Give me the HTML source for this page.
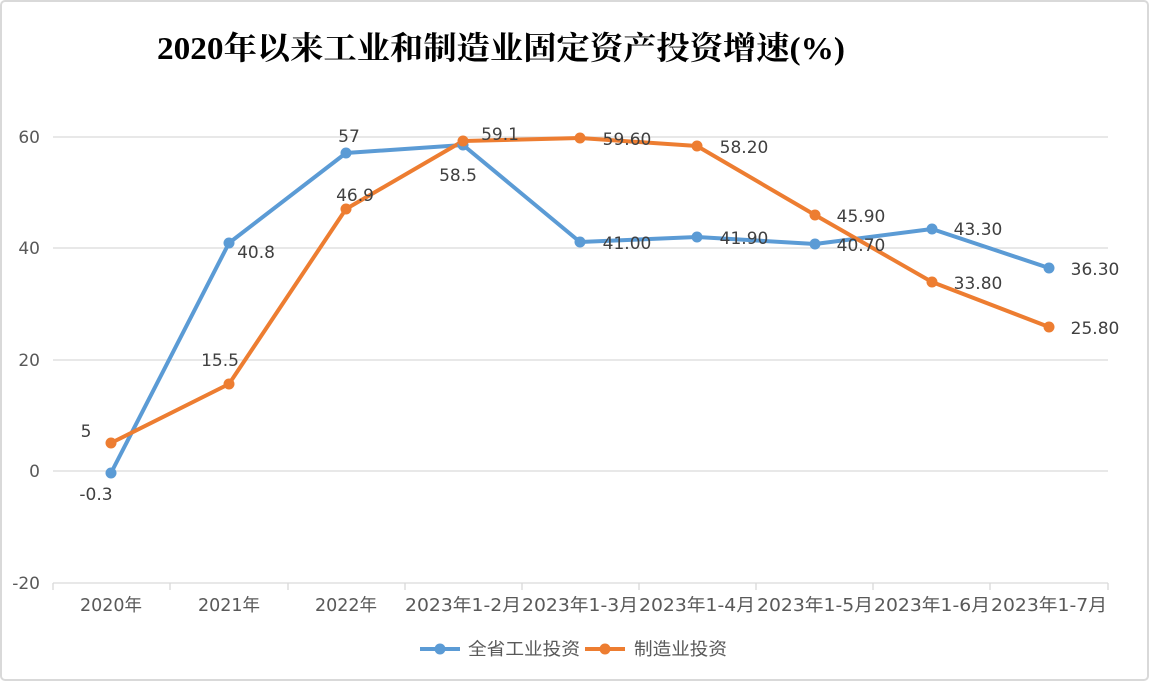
<!DOCTYPE html>
<html><head><meta charset="utf-8"><style>
html,body{margin:0;padding:0;background:#fff;}
svg{display:block;}
</style></head><body>
<svg width="1149" height="681" xmlns="http://www.w3.org/2000/svg" font-family="'DejaVu Sans','Noto Sans CJK SC',sans-serif">
<rect x="1" y="1" width="1147" height="679" rx="4" fill="#fff" stroke="#d9d9d9" stroke-width="2"/>
<text x="157" y="59" font-family="'Liberation Serif','Noto Serif CJK SC',serif" font-weight="bold" font-size="32" textLength="688" lengthAdjust="spacingAndGlyphs" fill="#000">2020年以来工业和制造业固定资产投资增速(%)</text>
<g stroke="#d9d9d9" stroke-width="1.3">
<line x1="53" y1="137" x2="1108" y2="137"/>
<line x1="53" y1="248" x2="1108" y2="248"/>
<line x1="53" y1="360" x2="1108" y2="360"/>
<line x1="53" y1="471" x2="1108" y2="471"/>
<line x1="53" y1="583" x2="1108" y2="583"/>
<path d="M53 583v7M170 583v7M288 583v7M405 583v7M522 583v7M639 583v7M756 583v7M873 583v7M990 583v7M1108 583v7"/>
</g>
<g font-size="17" fill="#595959" text-anchor="end">
<text x="40" y="143">60</text><text x="40" y="254">40</text><text x="40" y="366">20</text><text x="40" y="477">0</text><text x="40" y="589">-20</text>
</g>
<g font-size="17.5" fill="#595959" text-anchor="middle">
<text x="111" y="611">2020年</text><text x="229" y="611">2021年</text><text x="346" y="611">2022年</text>
<text x="463" y="611" textLength="116" lengthAdjust="spacingAndGlyphs">2023年1-2月</text><text x="580" y="611" textLength="116" lengthAdjust="spacingAndGlyphs">2023年1-3月</text><text x="697" y="611" textLength="116" lengthAdjust="spacingAndGlyphs">2023年1-4月</text>
<text x="815" y="611" textLength="116" lengthAdjust="spacingAndGlyphs">2023年1-5月</text><text x="932" y="611" textLength="116" lengthAdjust="spacingAndGlyphs">2023年1-6月</text><text x="1049" y="611" textLength="116" lengthAdjust="spacingAndGlyphs">2023年1-7月</text>
</g>
<g fill="none" stroke-width="4" stroke-linejoin="round">
<polyline stroke="#5b9bd5" points="111,473 229,243 346,153 463,145 580,242 697,237 815,244 932,229 1049,268"/>
<polyline stroke="#ed7d31" points="111,443 229,384 346,209 463,141 580,138 697,146 815,215 932,282 1049,327"/>
</g>
<g fill="#5b9bd5">
<circle cx="111" cy="473" r="5.5"/><circle cx="229" cy="243" r="5.5"/><circle cx="346" cy="153" r="5.5"/><circle cx="463" cy="145" r="5.5"/><circle cx="580" cy="242" r="5.5"/><circle cx="697" cy="237" r="5.5"/><circle cx="815" cy="244" r="5.5"/><circle cx="932" cy="229" r="5.5"/><circle cx="1049" cy="268" r="5.5"/>
</g>
<g fill="#ed7d31">
<circle cx="111" cy="443" r="5.5"/><circle cx="229" cy="384" r="5.5"/><circle cx="346" cy="209" r="5.5"/><circle cx="463" cy="141" r="5.5"/><circle cx="580" cy="138" r="5.5"/><circle cx="697" cy="146" r="5.5"/><circle cx="815" cy="215" r="5.5"/><circle cx="932" cy="282" r="5.5"/><circle cx="1049" cy="327" r="5.5"/>
</g>
<g font-size="17" fill="#404040" text-anchor="middle">
<text x="96" y="500">-0.3</text><text x="256" y="258">40.8</text><text x="349" y="142">57</text><text x="458" y="181">58.5</text>
<text x="627" y="249">41.00</text><text x="744" y="244">41.90</text><text x="861" y="251">40.70</text><text x="978" y="235">43.30</text><text x="1095" y="275">36.30</text>
<text x="86" y="437">5</text><text x="220" y="366">15.5</text><text x="355" y="201">46.9</text><text x="500" y="140">59.1</text>
<text x="627" y="145">59.60</text><text x="744" y="153">58.20</text><text x="861" y="222">45.90</text><text x="978" y="289">33.80</text><text x="1095" y="334">25.80</text>
</g>
<line x1="420" y1="649" x2="460" y2="649" stroke="#5b9bd5" stroke-width="4"/><circle cx="440" cy="649" r="5.5" fill="#5b9bd5"/>
<text x="468" y="655" font-size="17.5" fill="#595959" textLength="112" lengthAdjust="spacingAndGlyphs">全省工业投资</text>
<line x1="585" y1="649" x2="625" y2="649" stroke="#ed7d31" stroke-width="4"/><circle cx="605" cy="649" r="5.5" fill="#ed7d31"/>
<text x="634" y="655" font-size="17.5" fill="#595959" textLength="93" lengthAdjust="spacingAndGlyphs">制造业投资</text>
</svg>
</body></html>
